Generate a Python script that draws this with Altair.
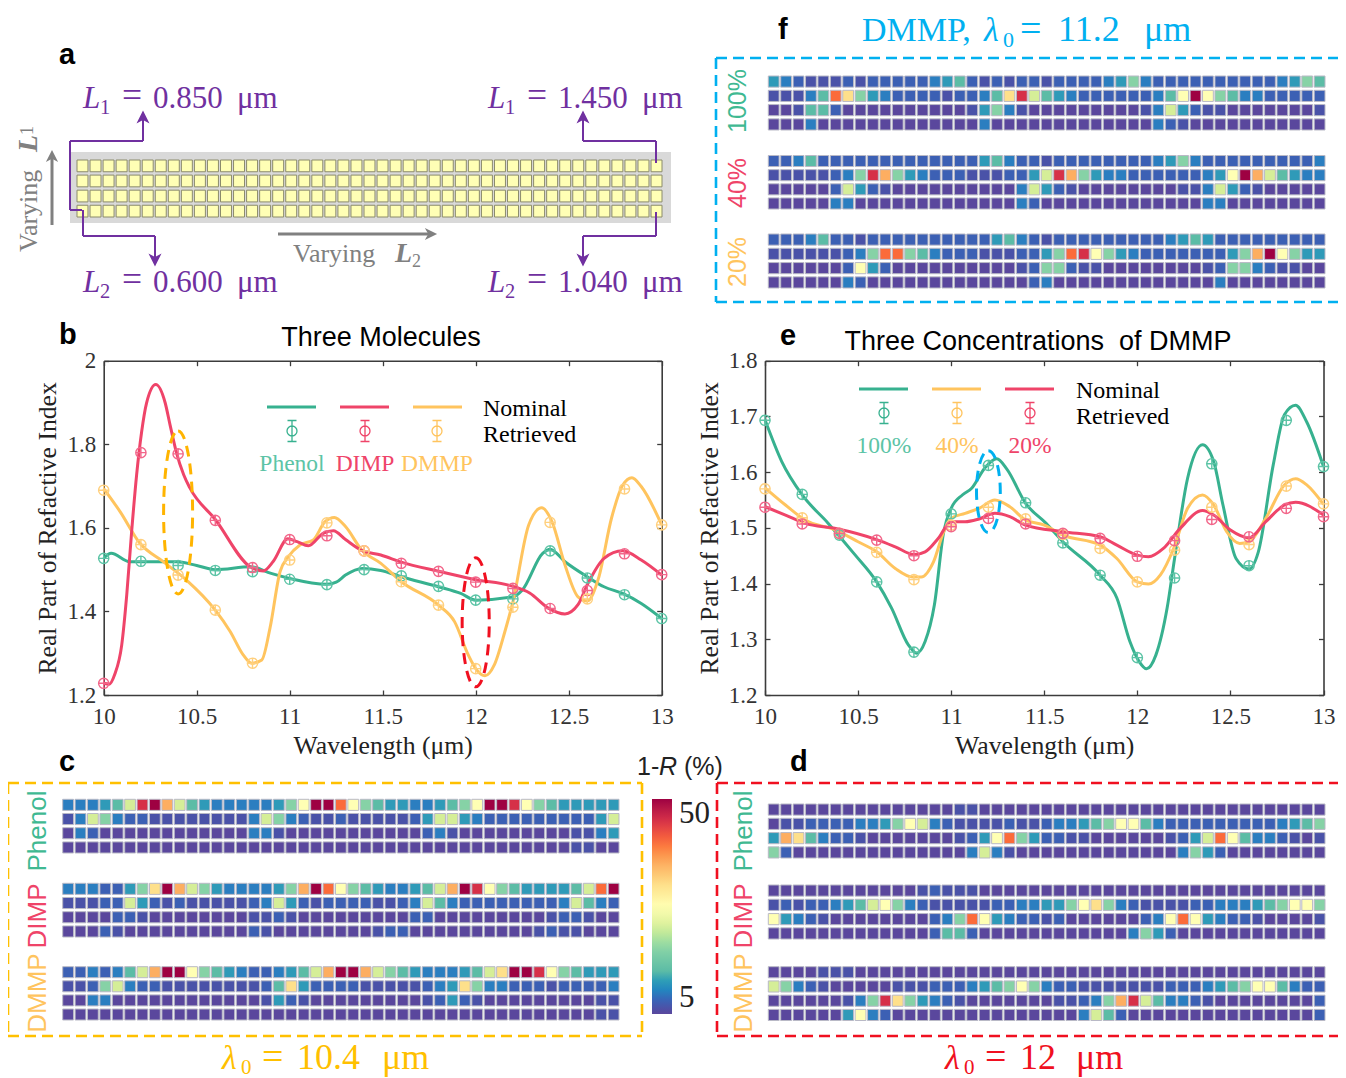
import altair as alt
import pandas as pd

W, H = 1330, 1070
SERIF = "Liberation Serif"
SANS = "Liberation Sans"
GREEN, RED, GOLD = "#37b18f", "#ef4469", "#ffc45e"
GREEN_L, RED_L, GOLD_L = "#5cc4a6", "#f2668a", "#ffd07e"
PURPLE = "#7030a0"
GRAY = "#808080"

WAVE = [10, 10.2, 10.4, 10.6, 10.8, 11, 11.2, 11.4, 11.6, 11.8, 12, 12.2, 12.4, 12.6, 12.8, 13]
X_TICKS = [10, 10.5, 11, 11.5, 12, 12.5, 13]

# Panel b retrieved
B_PHENOL_R = [1.527, 1.52, 1.51, 1.498, 1.495, 1.477, 1.464, 1.5, 1.485, 1.46, 1.427, 1.43, 1.545, 1.48, 1.44, 1.383]
B_DIMP_R = [1.228, 1.78, 1.777, 1.618, 1.505, 1.572, 1.581, 1.545, 1.515, 1.496, 1.47, 1.455, 1.407, 1.45, 1.538, 1.488]
B_DMMP_R = [1.69, 1.56, 1.487, 1.403, 1.276, 1.523, 1.612, 1.545, 1.471, 1.415, 1.263, 1.41, 1.613, 1.43, 1.693, 1.607]
# Panel b nominal
B_PHENOL_X = [10, 10.04, 10.14, 10.21, 10.39, 10.5, 10.6, 10.79, 10.9, 11, 11.2, 11.25, 11.3, 11.39, 11.49, 11.6, 11.8, 11.92, 12, 12.2, 12.25, 12.36, 12.4, 12.48, 12.6, 12.69, 12.79, 12.89, 13]
B_PHENOL_Y = [1.527, 1.539, 1.519, 1.519, 1.519, 1.51, 1.5, 1.507, 1.491, 1.479, 1.465, 1.47, 1.487, 1.503, 1.498, 1.483, 1.459, 1.443, 1.427, 1.435, 1.451, 1.539, 1.549, 1.519, 1.483, 1.459, 1.443, 1.419, 1.383]
B_DIMP_X = [10, 10.03, 10.06, 10.097, 10.124, 10.15, 10.177, 10.204, 10.23, 10.28, 10.33, 10.357, 10.39, 10.43, 10.464, 10.6, 10.787, 10.858, 10.912, 10.99, 11.04, 11.1, 11.18, 11.235, 11.3, 11.387, 11.49, 11.6, 11.8, 12, 12.2, 12.29, 12.39, 12.48, 12.55, 12.6, 12.69, 12.79, 12.89, 13]
B_DIMP_Y = [1.228, 1.226, 1.25, 1.32, 1.44, 1.59, 1.727, 1.83, 1.898, 1.943, 1.9, 1.846, 1.782, 1.727, 1.695, 1.62, 1.507, 1.497, 1.52, 1.574, 1.567, 1.557, 1.587, 1.593, 1.572, 1.546, 1.535, 1.518, 1.496, 1.476, 1.46, 1.444, 1.408, 1.394, 1.416, 1.464, 1.527, 1.545, 1.523, 1.487]
B_DMMP_X = [10, 10.088, 10.195, 10.32, 10.445, 10.6, 10.68, 10.75, 10.795, 10.85, 10.894, 10.948, 10.993, 11.055, 11.127, 11.19, 11.24, 11.3, 11.387, 11.49, 11.6, 11.8, 11.887, 11.96, 12.005, 12.05, 12.1, 12.157, 12.2, 12.285, 12.355, 12.41, 12.48, 12.55, 12.6, 12.66, 12.73, 12.79, 12.84, 12.89, 13]
B_DMMP_Y = [1.694, 1.639, 1.563, 1.519, 1.475, 1.403, 1.352, 1.296, 1.276, 1.284, 1.36, 1.495, 1.531, 1.559, 1.571, 1.615, 1.625, 1.603, 1.547, 1.515, 1.471, 1.415, 1.375, 1.296, 1.26, 1.246, 1.272, 1.352, 1.423, 1.607, 1.648, 1.615, 1.511, 1.435, 1.425, 1.479, 1.623, 1.702, 1.72, 1.699, 1.607]

# Panel e retrieved
E_100_R = [1.693, 1.56, 1.487, 1.403, 1.277, 1.525, 1.612, 1.545, 1.473, 1.415, 1.267, 1.41, 1.615, 1.432, 1.693, 1.61]
E_40_R = [1.57, 1.518, 1.49, 1.456, 1.407, 1.505, 1.537, 1.516, 1.488, 1.463, 1.403, 1.46, 1.537, 1.47, 1.575, 1.543]
E_20_R = [1.537, 1.507, 1.49, 1.478, 1.45, 1.502, 1.517, 1.507, 1.49, 1.481, 1.449, 1.477, 1.515, 1.484, 1.535, 1.52]
# Panel e nominal
E_100_X = [10, 10.09, 10.2, 10.34, 10.485, 10.6, 10.68, 10.77, 10.815, 10.86, 10.91, 10.96, 11, 11.06, 11.11, 11.18, 11.245, 11.3, 11.4, 11.51, 11.6, 11.8, 11.89, 11.96, 12.01, 12.05, 12.1, 12.16, 12.2, 12.27, 12.35, 12.41, 12.46, 12.53, 12.6, 12.65, 12.73, 12.79, 12.85, 12.91, 13]
E_100_Y = [1.694, 1.619, 1.559, 1.508, 1.451, 1.403, 1.356, 1.29, 1.275, 1.296, 1.362, 1.493, 1.535, 1.559, 1.571, 1.607, 1.624, 1.605, 1.544, 1.508, 1.475, 1.415, 1.374, 1.296, 1.26, 1.247, 1.272, 1.356, 1.445, 1.589, 1.649, 1.619, 1.541, 1.445, 1.426, 1.457, 1.613, 1.703, 1.72, 1.69, 1.61]
E_40_X = [10, 10.11, 10.215, 10.38, 10.5, 10.6, 10.7, 10.79, 10.84, 10.905, 10.96, 11, 11.075, 11.15, 11.235, 11.315, 11.4, 11.5, 11.6, 11.8, 11.89, 12, 12.06, 12.125, 12.195, 12.27, 12.35, 12.41, 12.48, 12.55, 12.6, 12.69, 12.79, 12.85, 12.91, 13]
E_40_Y = [1.572, 1.541, 1.514, 1.496, 1.475, 1.457, 1.427, 1.412, 1.412, 1.439, 1.493, 1.517, 1.526, 1.535, 1.55, 1.538, 1.514, 1.505, 1.487, 1.469, 1.445, 1.403, 1.399, 1.416, 1.463, 1.535, 1.559, 1.541, 1.493, 1.472, 1.475, 1.517, 1.577, 1.588, 1.577, 1.542]
E_20_X = [10, 10.11, 10.215, 10.38, 10.6, 10.7, 10.8, 10.86, 10.93, 11, 11.075, 11.15, 11.235, 11.315, 11.4, 11.6, 11.8, 11.89, 12, 12.06, 12.14, 12.23, 12.35, 12.41, 12.5, 12.6, 12.69, 12.79, 12.85, 13]
E_20_Y = [1.538, 1.523, 1.508, 1.499, 1.479, 1.466, 1.452, 1.457, 1.481, 1.511, 1.511, 1.516, 1.526, 1.52, 1.505, 1.493, 1.484, 1.469, 1.451, 1.448, 1.463, 1.499, 1.531, 1.523, 1.496, 1.482, 1.511, 1.541, 1.546, 1.523]

# Colour levels of the 1-R maps, one character per cell
LEVELS = {"0": 5.0, "i": 6.35, "1": 7.7, "2": 9.5, "3": 11.75, "4": 14.0, "5": 18.5, "6": 23.0,
          "7": 27.5, "8": 32.0, "9": 36.5, "A": 41.0, "B": 45.5, "C": 50.0}
LEVEL_COLORS = ["#5a479d", "#4a52a8", "#3c60b4", "#2b7ec0", "#2f9ab8", "#5cbca6", "#86d2a6", "#d5ee98",
                "#ffffb4", "#fee08b", "#fdae61", "#fb6b3a", "#d63048", "#9e0142"]

C_PHENOL = ["222346BC9643" "22222" "357CC" "A75433223457CCB75433333",
            "i26521" "1" "iiiiiiii" "26521" "ii" "1iiiii" "1366" "32" "111111111" "36",
            "021" "000000000000" "22i" "0000" "0000000" "12i" "000000000" "ii23",
            "0000000000000000000000" "0000000000000000000" "ii00"]
C_DIMP = ["2221135" "8C965" "3" "2222" "3" "59CA" "754322346" "9CB" "754" "3333" "46AC",
          "iii11631i1" "iiiii" "1263" "1i1" "111ii12642" "11111111" "26421",
          "000011i" "00000000" "ii1i" "000" "000000" "11" "00000000" "0" "i11i" "00",
          "0001i" "0000000000" "1i" "00000" "000i11" "0000000000" "i1ii" "000"]
C_DMMP = ["11212469CC" "754321" "123469" "CC96543222" "3468" "CCB" "754" "333",
          "ii156211" "iiiiiiii" "148311" "11iiiii" "12385" "22111" "i1111" "2",
          "0022" "000000000000" "i31i" "00" "0000000" "i131i" "000000000" "ii",
          "0000000000000000000000" "000000000000000000000" "ii"]
D_PHENOL = ["000000000000000" "ii" "000000" "0000000000000000000000",
            "0ii1111223" "57621" "iiii1" "ii1" "223457742" "111111111" "2345",
            "39842" "11i" "0000000" "i137A531" "1ii000000" "i136A7" "4221i0i",
            "51" "00000000000000" "262i000" "0000000000" "2531" "00000000"]
D_DIMP = ["000000000000" "i1i" "ii" "000000" "0000000000000000000000",
          "i1i1123467" "521" "iiiii" "11223" "3578521" "iiii" "11222" "345775",
          "7321i" "00000000" "125A7" "3211i" "1000000" "127A73" "211i" "0000i",
          "0000000000000" "1441" "000000" "000000" "2531" "000000000000"]
D_DMMP = ["0000iii" "0000000000000000" "0000000000000000000000",
          "6521i" "00000" "iii" "1112345752" "11" "iiiiiii" "111234577" "4211",
          "000000" "i25B8532" "1i" "0000000" "ii125" "9B642" "21i" "00000000" "1",
          "000000" "3721" "0000000000000" "00" "2641" "000000000000000" "1"]
F_100 = ["321iii1i" "11111" "2341" "i1i11i" "11112352" "1111111111" "2354",
         "iii24A8532" "1111i11" "248B64" "32111111" "247C754" "22" "11111",
         "00i441" "0000000000" "i352i00" "0000000" "i2631ii" "0000000" "i",
         "0002" "0000000000000" "2" "00000" "00000000" "21i" "00000000000"]
F_40 = ["1124" "1111111111111" "34211i" "11111111" "2352" "111111111" "2",
        "iiiii125B9" "532111" "iii" "1136" "B95322" "111111" "237C96" "4322",
        "00000" "1631i" "0000000000" "263" "1i00000000" "ii2631i" "00000",
        "00000" "22" "0000000000000" "210" "000000000000" "22" "00000000"]
F_20 = ["11124" "11i" "1111111111" "3421i" "111111111" "2343" "111111111",
        "iiiiii" "125AA5" "42111" "iii" "113" "5AB7532" "1111111" "359C7533",
        "000000" "1731" "0000000000" "i15" "51ii" "00000000" "i1" "5521ii" "00",
        "000000" "21" "0000000000000" "12" "0000000000000" "2" "00000000"]

ONE = pd.DataFrame({"d": [0]})
layers = []


def px(v):
    return alt.value(v - 8)


def text(s, x, y, size, color="#000000", font=SERIF, weight="normal", style="normal",
         angle=0, align="left", baseline="alphabetic"):
    layers.append(
        alt.Chart(pd.DataFrame({"t": [s]}))
        .mark_text(fontSize=size, color=color, font=font, fontWeight=weight, fontStyle=style,
                   angle=angle, align=align, baseline=baseline)
        .encode(text="t:N", x=px(x), y=px(y))
    )


def rule(x1, y1, x2, y2, color, width=2, dash=None):
    kw = {"strokeDash": dash} if dash else {}
    layers.append(
        alt.Chart(ONE).mark_rule(color=color, strokeWidth=width, **kw)
        .encode(x=px(x1), x2=px(x2), y=px(y1), y2=px(y2))
    )


def block(x1, y1, x2, y2, color):
    layers.append(
        alt.Chart(ONE).mark_rect(color=color).encode(x=px(x1), x2=px(x2), y=px(y1), y2=px(y2))
    )


def glyph(x, y, path, size, color, filled=True, width=1.3):
    layers.append(
        alt.Chart(ONE).mark_point(shape=path, size=size, color=color, filled=filled, opacity=1,
                                  strokeWidth=width).encode(x=px(x), y=px(y))
    )


HEAD_UP = "M0,-1 L1,1 L0,0.45 L-1,1 Z"
HEAD_DOWN = "M0,1 L1,-1 L0,-0.45 L-1,-1 Z"
HEAD_RIGHT = "M1,0 L-1,1 L-0.45,0 L-1,-1 Z"
RING = "M-1,0 A1,1 0 1,1 1,0 A1,1 0 1,1 -1,0 Z M-1,0 L1,0 M0,-1 L0,1"
PHI = "M-1,0 A1,1 0 1,1 1,0 A1,1 0 1,1 -1,0 Z M0,-2.1 L0,2.1 M-0.9,-2.1 L0.9,-2.1 M-0.9,2.1 L0.9,2.1"


def ellipse_path(ratio):
    return f"M0,-1 A{ratio},1 0 1,1 0,1 A{ratio},1 0 1,1 0,-1 Z"


def heat(rows, x1, x2, y1, y2):
    recs = []
    for r, row in enumerate(rows):
        if len(row) != 45:
            raise ValueError(f"row {r} has {len(row)}: {row}")
        for c, ch in enumerate(row):
            recs.append({"c": c, "r": r, "v": LEVELS[ch]})
    layers.append(
        alt.Chart(pd.DataFrame(recs))
        .mark_rect(stroke="#b9b9c6", strokeWidth=1)
        .encode(
            x=alt.X("c:O", axis=None, scale=alt.Scale(range=[x1 - 8, x2 - 8], paddingInner=0.13, paddingOuter=0)),
            y=alt.Y("r:O", axis=None, scale=alt.Scale(range=[y1 - 8, y2 - 8], paddingInner=0.22, paddingOuter=0)),
            color=alt.Color("v:Q", scale=alt.Scale(domain=list(LEVELS.values()), range=LEVEL_COLORS),
                            legend=alt.Legend(orient="none", legendX=644, legendY=791, title=None,
                                              gradientLength=215, gradientThickness=20, values=[5, 50],
                                              labelFont=SERIF, labelFontSize=31, labelColor="#222222",
                                              labelAlign="center", labelOffset=7, tickCount=2,
                                              gradientStrokeWidth=0)),
        )
    )


def line_panel(x0, x1, y0, y1, ydom, yticks, nominal, retrieved, ellipse):
    sx = alt.Scale(domain=[10, 13], range=[x0 - 8, x1 - 8], nice=False, zero=False)
    sy = alt.Scale(domain=ydom, range=[y1 - 8, y0 - 8], nice=False, zero=False)
    corner = pd.DataFrame({"x": [10.0], "y": [ydom[0]]})
    common = dict(values=X_TICKS, grid=False, labels=False, title="", domainColor="#3c3c3c",
                  tickColor="#3c3c3c", tickSize=5, tickWidth=1.3)
    commony = dict(common, values=yticks)

    def frame(ax, ay):
        return alt.Chart(corner).mark_point(opacity=0).encode(
            x=alt.X("x:Q", scale=sx, axis=ax), y=alt.Y("y:Q", scale=sy, axis=ay))

    layers.append(frame(
        alt.Axis(**dict(common, orient="top", offset=-(y1 - 8), domainWidth=1.6)),
        alt.Axis(**dict(commony, orient="right", offset=(x0 - 8) - W, domainWidth=1.6))))
    layers.append(frame(
        alt.Axis(**dict(common, orient="bottom", offset=(y0 - 8) - H, domainWidth=1.6)),
        alt.Axis(**dict(commony, orient="left", offset=-(x1 - 8), domainWidth=1.6))))
    label_kw = dict(grid=False, tickSize=0, domain=False, labelFont=SERIF, labelFontSize=23,
                    labelColor="#333333", format="~g", labelFlush=False, labelOverlap=False,
                    titleFont=SERIF, titleFontSize=25.7, titleFontWeight="normal", titleColor="#222222")
    layers.append(frame(
        alt.Axis(orient="bottom", offset=(y1 - 8) - H, values=X_TICKS, labelPadding=10,
                 title="Wavelength (μm)", titlePadding=5, **label_kw),
        alt.Axis(orient="left", offset=-(x0 - 8), values=yticks, labelPadding=8,
                 title="Real Part of Refactive Index", titlePadding=6, **label_kw)))
    for xs, ys, color in nominal:
        layers.append(
            alt.Chart(pd.DataFrame({"x": xs, "y": ys}))
            .mark_line(color=color, strokeWidth=3, interpolate="monotone")
            .encode(x=alt.X("x:Q", scale=sx, axis=None), y=alt.Y("y:Q", scale=sy, axis=None))
        )
    for ys, color in retrieved:
        layers.append(
            alt.Chart(pd.DataFrame({"x": WAVE, "y": ys}))
            .mark_point(shape=RING, size=105, color=color, filled=False, opacity=1, strokeWidth=1.4)
            .encode(x=alt.X("x:Q", scale=sx, axis=None), y=alt.Y("y:Q", scale=sy, axis=None))
        )
    for ex, ey, half, ratio, color in ellipse:
        layers.append(
            alt.Chart(pd.DataFrame({"x": [ex], "y": [ey]}))
            .mark_point(shape=ellipse_path(ratio), size=(2 * half) ** 2, color=color, filled=False,
                        opacity=1, strokeWidth=3, strokeDash=[11, 7])
            .encode(x=alt.X("x:Q", scale=sx, axis=None), y=alt.Y("y:Q", scale=sy, axis=None))
        )


def equation(sym, sub, base, x_sym, x_sub, x_eq, x_num, num, x_unit, color, size=31):
    text(sym, x_sym, base, size, color, style="italic")
    text(sub, x_sub, base + 6, size * 0.66, color)
    text("=", x_eq, base - 1, size * 1.15, color)
    text(num, x_num, base, size, color)
    text("μm", x_unit, base, size, color)


# ---------- Panel a ----------
block(70, 152, 671, 223, "#d9d9d9")
cells = pd.DataFrame([{"c": c, "r": r} for r in range(4) for c in range(45)])
layers.append(
    alt.Chart(cells).mark_rect(color="#ffffb5", stroke="#8b8b6b", strokeWidth=1)
    .encode(
        x=alt.X("c:O", axis=None, scale=alt.Scale(range=[77 - 8, 662 - 8], paddingInner=0.16, paddingOuter=0)),
        y=alt.Y("r:O", axis=None, scale=alt.Scale(range=[160 - 8, 217 - 8], paddingInner=0.22, paddingOuter=0)),
    )
)
for seg in [(82, 210, 70, 210), (70, 210, 70, 141), (70, 141, 143, 141), (143, 141, 143, 118),
            (83, 210, 83, 236), (83, 236, 155, 236), (155, 236, 155, 258),
            (656, 163, 656, 141), (656, 141, 583, 141), (583, 141, 583, 118),
            (656, 212, 656, 236), (656, 236, 583, 236), (583, 236, 583, 258)]:
    rule(*seg, PURPLE, 2)
glyph(143, 117, HEAD_UP, 170, PURPLE)
glyph(583, 117, HEAD_UP, 170, PURPLE)
glyph(155, 260, HEAD_DOWN, 170, PURPLE)
glyph(583, 260, HEAD_DOWN, 170, PURPLE)
equation("L", "1", 108, 83, 100, 122, 153, "0.850", 237, PURPLE)
equation("L", "2", 292, 83, 100, 122, 153, "0.600", 237, PURPLE)
equation("L", "1", 108, 488, 505, 527, 558, "1.450", 642, PURPLE)
equation("L", "2", 292, 488, 505, 527, 558, "1.040", 642, PURPLE)
rule(52, 225, 52, 157, GRAY, 3)
glyph(52, 156, HEAD_UP, 150, GRAY)
rule(278, 234, 430, 234, GRAY, 3)
glyph(431, 234, HEAD_RIGHT, 150, GRAY)
text("Varying", 37, 252, 26, GRAY, angle=270)
text("L", 37, 152, 28, GRAY, weight="bold", style="italic", angle=270)
text("1", 33, 135, 18, GRAY, angle=270)
text("Varying", 293, 262, 26, GRAY)
text("L", 395, 262, 28, GRAY, weight="bold", style="italic")
text("2", 412, 267, 18, GRAY)

# ---------- Panel f ----------
rule(716, 58, 1338, 58, "#00b0f0", 2.6, [11, 6])
rule(716, 302, 1338, 302, "#00b0f0", 2.6, [11, 6])
rule(716, 58, 716, 302, "#00b0f0", 2.6, [11, 6])
text("DMMP,", 862, 41, 34, "#00b0f0")
text("λ", 984, 41, 34, "#00b0f0", style="italic")
text("0", 1003, 47, 22, "#00b0f0")
text("=", 1020, 41, 38, "#00b0f0")
text("11.2", 1058, 41, 36, "#00b0f0")
text("μm", 1144, 41, 36, "#00b0f0")
heat(F_100, 768.3, 1325, 76, 130)
heat(F_40, 768.3, 1325, 155.5, 209)
heat(F_20, 768.3, 1325, 234, 288)
text("100%", 746, 101, 25, "#3fb992", font=SANS, angle=270, align="center")
text("40%", 746, 183, 25, RED, font=SANS, angle=270, align="center")
text("20%", 746, 262, 25, GOLD, font=SANS, angle=270, align="center")

# ---------- Panels b and e ----------
line_panel(103.7, 661.7, 360.7, 695, [1.2, 2], [1.2, 1.4, 1.6, 1.8, 2],
           [(B_PHENOL_X, B_PHENOL_Y, GREEN), (B_DMMP_X, B_DMMP_Y, GOLD), (B_DIMP_X, B_DIMP_Y, RED)],
           [(B_PHENOL_R, GREEN_L), (B_DIMP_R, RED_L), (B_DMMP_R, GOLD_L)],
           [(10.4, 1.637, 81.5, 0.178, "#ffb400"), (12.0, 1.374, 64.5, 0.21, "#f01020")])
line_panel(765, 1323.5, 360.7, 695, [1.2, 1.8], [1.2, 1.3, 1.4, 1.5, 1.6, 1.7, 1.8],
           [(E_100_X, E_100_Y, GREEN), (E_40_X, E_40_Y, GOLD), (E_20_X, E_20_Y, RED)],
           [(E_100_R, GREEN_L), (E_40_R, GOLD_L), (E_20_R, RED_L)],
           [(11.2, 1.565, 41, 0.29, "#00b0f0")])

text("Three Molecules", 381, 346, 27, font=SANS, align="center")
text("Three Concentrations\u00a0\u00a0of DMMP", 1038, 350, 27, font=SANS, align="center")

for x1, x2, mx, name, color in [(267, 316, 292, "Phenol", GREEN), (340, 389, 365, "DIMP", RED), (413, 462, 437, "DMMP", GOLD)]:
    rule(x1, 407, x2, 407, color, 2.8)
    glyph(mx, 431, PHI, 100, color, filled=False, width=1.3)
    text(name, mx, 471, 23.5, color if color != GREEN else GREEN_L, align="center")
text("Nominal", 483, 416, 24)
text("Retrieved", 483, 442, 24)
for x1, x2, mx, name, color in [(859, 908, 884, "100%", GREEN), (932, 981, 957, "40%", GOLD), (1005, 1054, 1030, "20%", RED)]:
    rule(x1, 389, x2, 389, color, 2.8)
    glyph(mx, 413, PHI, 100, color, filled=False, width=1.3)
    text(name, mx, 453, 23.5, color if color != GREEN else GREEN_L, align="center")
text("Nominal", 1076, 398, 24)
text("Retrieved", 1076, 424, 24)

# ---------- Panels c and d ----------
heat(C_PHENOL, 62.7, 619, 799.3, 853)
heat(C_DIMP, 62.7, 619, 883.3, 937)
heat(C_DMMP, 62.7, 619, 966.7, 1020)
heat(D_PHENOL, 768.3, 1325, 804, 858)
heat(D_DIMP, 768.3, 1325, 885, 939)
heat(D_DMMP, 768.3, 1325, 966.7, 1020.5)

for x in [46, 752]:
    text("Phenol", x, 831, 26, "#3fb992", font=SANS, angle=270, align="center")
    text("DIMP", x, 916, 26, RED, font=SANS, angle=270, align="center")
    text("DMMP", x, 993, 26, GOLD, font=SANS, angle=270, align="center")

for a, b, c, d, col in [(8, 783, 642, 1036, "#ffc000")]:
    rule(a, b, c, b, col, 2.6, [11, 6])
    rule(a, d, c, d, col, 2.6, [11, 6])
    rule(a, b, a, d, col, 2.6, [11, 6])
    rule(c, b, c, d, col, 2.6, [11, 6])
rule(717, 783, 1338, 783, "#f01020", 2.6, [11, 6])
rule(717, 1036, 1338, 1036, "#f01020", 2.6, [11, 6])
rule(717, 783, 717, 1036, "#f01020", 2.6, [11, 6])

text("1-", 637, 775, 25, "#222222", font=SANS)
text("R", 659, 775, 25, "#222222", font=SANS, style="italic")
text("(%)", 684, 775, 25, "#222222", font=SANS)

text("λ", 222, 1069, 34, "#ffc000", style="italic")
text("0", 241, 1074, 21, "#ffc000")
text("=", 262, 1069, 38, "#ffc000")
text("10.4", 297, 1069, 36, "#ffc000")
text("μm", 382, 1069, 36, "#ffc000")
text("λ", 945, 1069, 34, "#f01020", style="italic")
text("0", 964, 1074, 21, "#f01020")
text("=", 985, 1069, 38, "#f01020")
text("12", 1020, 1069, 36, "#f01020")
text("μm", 1076, 1069, 36, "#f01020")

for s, x, y in [("a", 59, 64), ("b", 59, 344), ("c", 59, 771), ("d", 790, 771), ("e", 780, 345), ("f", 778, 39)]:
    text(s, x, y, 29, font=SANS, weight="bold")

chart = (
    alt.layer(*layers)
    .resolve_scale(x="independent", y="independent")
    .properties(width=W, height=H, padding=0, autosize="none", background="#ffffff")
    .configure_view(stroke=None)
)
chart.save("out.html", embed_options={"renderer": "svg", "actions": False})
